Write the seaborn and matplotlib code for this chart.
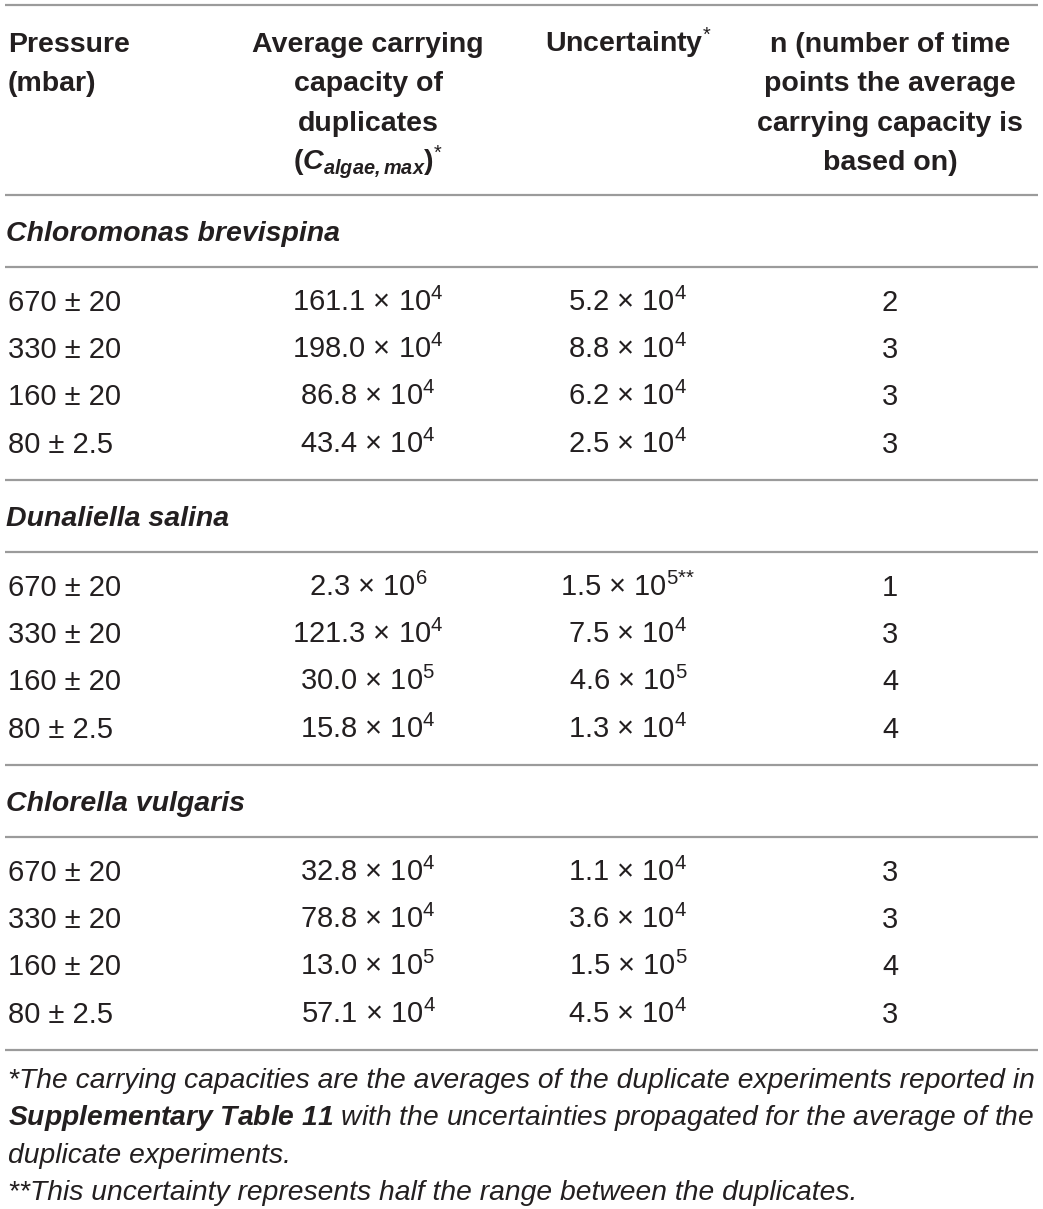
import matplotlib
matplotlib.use("Agg")
import matplotlib.pyplot as plt
import seaborn as sns

sns.set_theme(style="white")
plt.rcParams['font.family'] = ['Liberation Sans', 'DejaVu Sans']
plt.rcParams['mathtext.fontset'] = 'custom'
plt.rcParams['mathtext.rm'] = 'Liberation Sans'
plt.rcParams['mathtext.it'] = 'Liberation Sans:italic'
plt.rcParams['mathtext.bf'] = 'Liberation Sans:bold'
plt.rcParams['mathtext.bfit'] = 'Liberation Sans:bold:italic'

# table content
species = ["Chloromonas brevispina", "Dunaliella salina", "Chlorella vulgaris"]
pressures = ["670 ± 20", "330 ± 20", "160 ± 20", "80 ± 2.5"]
avg_mant = [["161.1", "198.0", "86.8", "43.4"],
            ["2.3", "121.3", "30.0", "15.8"],
            ["32.8", "78.8", "13.0", "57.1"]]
avg_exp = [[4, 4, 4, 4],
           [6, 4, 5, 4],
           [4, 4, 5, 4]]
unc_mant = [["5.2", "8.8", "6.2", "2.5"],
            ["1.5", "7.5", "4.6", "1.3"],
            ["1.1", "3.6", "1.5", "4.5"]]
unc_exp = [[4, 4, 4, 4],
           [5, 4, 5, 4],
           [4, 4, 5, 4]]
unc_note = [["", "", "", ""],
            ["{*}{*}", "", "", ""],
            ["", "", "", ""]]
n_points = [[2, 3, 3, 3],
            [1, 3, 4, 4],
            [3, 3, 4, 3]]

header_pressure = ["Pressure", "(mbar)"]
header_avg = ["Average carrying", "capacity of", "duplicates",
              r"$\mathbf{(}\mathbfit{C}_{\mathbfit{algae,max}}\mathbf{)}^{*}$"]
header_unc = [r"Uncertainty$^{*}$"]
header_n = ["n (number of time", "points the average",
            "carrying capacity is", "based on)"]

footnotes = [
    "*The carrying capacities are the averages of the duplicate experiments reported in",
    r"$\mathbfit{Supplementary\ Table\ 11}$ with the uncertainties propagated for the average of the",
    "duplicate experiments.",
    "**This uncertainty represents half the range between the duplicates.",
]

# layout (pixels)
W, H = 1043, 1209
ink = "#231f20"
rule_col = "#9b9b9b"
fs_head, fs_sp, fs_data, fs_foot = 20.5, 20.5, 21, 20.3
x_left, x_avg, x_unc, x_n = 8, 368, 628, 890
head_base0, head_dy = 52, 39.3
rule_top, rule_head = 5, 195
block_h = 285
row_dy = 47.2

fig = plt.figure(figsize=(W / 100, H / 100), dpi=100)
ax = fig.add_axes([0, 0, 1, 1])
ax.set_xlim(0, W)
ax.set_ylim(H, 0)
ax.axis("off")

def rule(y):
    ax.plot([5, W - 5], [y, y], color=rule_col, lw=1.6, solid_capstyle="butt")

# header
rule(rule_top)
for col_x, lines, ha in [(x_left, header_pressure, "left"), (x_avg, header_avg, "center"),
                         (x_unc, header_unc, "center"), (x_n, header_n, "center")]:
    for i, t in enumerate(lines):
        ax.text(col_x, head_base0 + i * head_dy, t, ha=ha, va="baseline",
                fontsize=fs_head, fontweight="bold", color=ink)
rule(rule_head)

# body blocks
for b, sp in enumerate(species):
    r0 = rule_head + b * block_h
    ax.text(x_left - 2, r0 + 46, sp, ha="left", va="baseline",
            fontsize=fs_sp, fontweight="bold", fontstyle="italic", color=ink)
    rule(r0 + 72)
    for k in range(len(pressures)):
        y = r0 + 116 + k * row_dy
        ax.text(x_left, y, pressures[k], ha="left", va="baseline", fontsize=fs_data, color=ink)
        ax.text(x_avg, y, f"{avg_mant[b][k]} × $10^{{{avg_exp[b][k]}}}$",
                ha="center", va="baseline", fontsize=fs_data, color=ink)
        utxt = f"{unc_mant[b][k]} × $10^{{{unc_exp[b][k]}{unc_note[b][k]}}}$"
        ax.text(x_unc, y, utxt, ha="center", va="baseline", fontsize=fs_data, color=ink)
        ax.text(x_n, y, str(n_points[b][k]), ha="center", va="baseline",
                fontsize=fs_data, color=ink)
    rule(r0 + block_h)

# footnotes
foot_base0 = rule_head + 3 * block_h + 38
for i, t in enumerate(footnotes):
    ax.text(x_left, foot_base0 + i * 37.3, t, ha="left", va="baseline",
            fontsize=fs_foot, fontstyle="italic", color=ink)

fig.savefig("out.png", dpi=100)
